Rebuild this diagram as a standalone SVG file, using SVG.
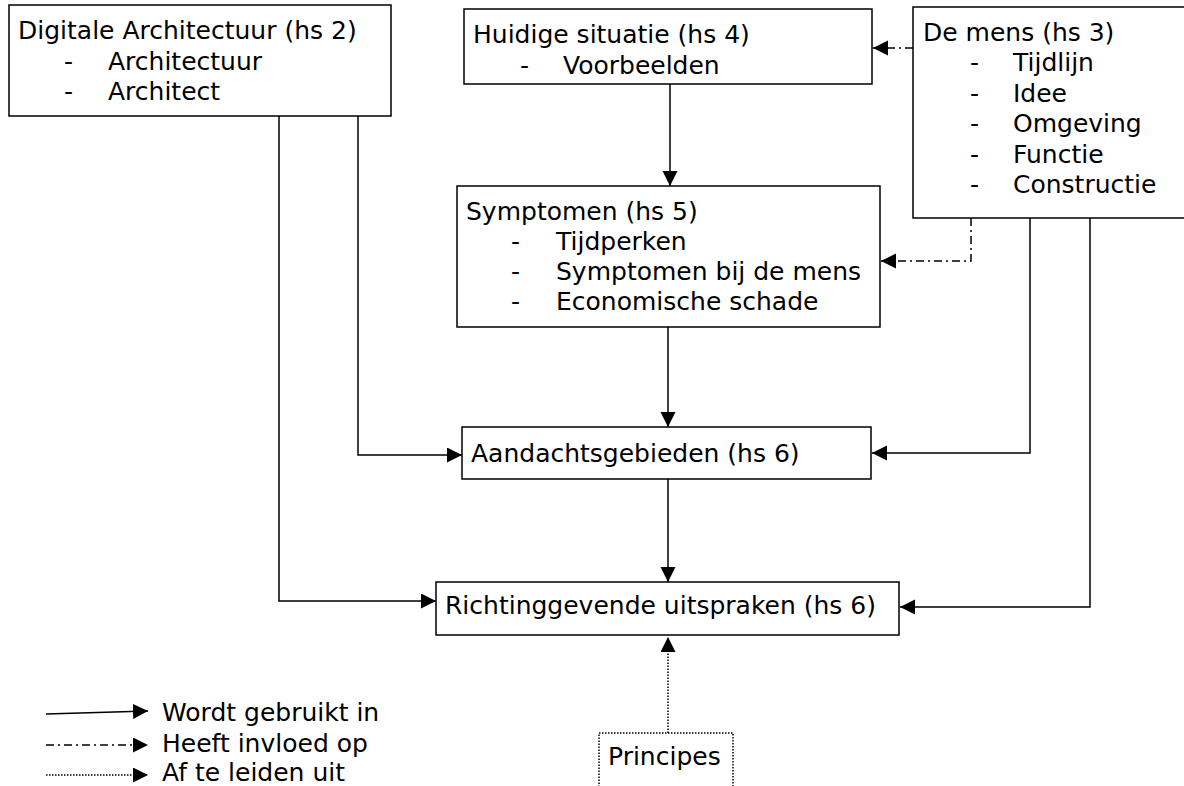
<svg xmlns="http://www.w3.org/2000/svg" width="1184" height="786" viewBox="0 0 1184 786">
  <style>
    text { font-family: "DejaVu Sans", Verdana, sans-serif; font-size: 25px; fill: #000; }
    .box { fill: #fff; stroke: #000; stroke-width: 1.5; }
    .dotbox { fill: #fff; stroke: #000; stroke-width: 1.5; stroke-dasharray: 1.5 1.5; }
    .solid { fill: none; stroke: #000; stroke-width: 1.5; }
    .dashdot { fill: none; stroke: #000; stroke-width: 1.5; stroke-dasharray: 8 4 2 4; }
    .dotted { fill: none; stroke: #000; stroke-width: 1.5; stroke-dasharray: 1.5 1.5; }
  </style>
  <defs>
    <marker id="arrow" markerUnits="userSpaceOnUse" markerWidth="16" markerHeight="16" refX="15" refY="7.5" orient="auto">
      <path d="M0,0 L15,7.5 L0,15 Z" fill="#000"/>
    </marker>
  </defs>

  <rect width="1184" height="786" fill="#fff"/>

  <!-- connectors -->
  <g id="connectors">
    <path class="dashdot" d="M913,48 H873" marker-end="url(#arrow)"/>
    <path class="solid" d="M670,84 V186" marker-end="url(#arrow)"/>
    <path class="dashdot" d="M971,218 V261 H881" marker-end="url(#arrow)"/>
    <path class="solid" d="M668,327 V427" marker-end="url(#arrow)"/>
    <path class="solid" d="M358,116 V455 H462" marker-end="url(#arrow)"/>
    <path class="solid" d="M1030,218 V453 H872" marker-end="url(#arrow)"/>
    <path class="solid" d="M668,479 V582" marker-end="url(#arrow)"/>
    <path class="solid" d="M279,116 V601 H436" marker-end="url(#arrow)"/>
    <path class="solid" d="M1090,218 V607 H900" marker-end="url(#arrow)"/>
    <path class="dotted" d="M668,733 V637" marker-end="url(#arrow)"/>
  </g>

  <g id="digitale-architectuur">
    <rect class="box" x="9" y="5" width="382" height="111"/>
    <text x="18" y="39">Digitale Architectuur (hs 2)</text>
    <text x="64" y="70">-</text>
    <text x="108" y="70">Architectuur</text>
    <text x="64" y="100">-</text>
    <text x="108" y="100">Architect</text>
  </g>

  <g id="huidige-situatie">
    <rect class="box" x="464" y="9" width="408" height="75"/>
    <text x="473" y="43">Huidige situatie (hs 4)</text>
    <text x="520" y="74">-</text>
    <text x="563" y="74">Voorbeelden</text>
  </g>

  <g id="de-mens">
    <rect class="box" x="913" y="7" width="280" height="211"/>
    <text x="923" y="41">De mens (hs 3)</text>
    <text x="970" y="71">-</text>
    <text x="1013" y="71">Tijdlijn</text>
    <text x="970" y="102">-</text>
    <text x="1013" y="102">Idee</text>
    <text x="970" y="132">-</text>
    <text x="1013" y="132">Omgeving</text>
    <text x="970" y="163">-</text>
    <text x="1013" y="163">Functie</text>
    <text x="970" y="193">-</text>
    <text x="1013" y="193">Constructie</text>
  </g>

  <g id="symptomen">
    <rect class="box" x="457" y="186" width="423" height="141"/>
    <text x="466" y="220">Symptomen (hs 5)</text>
    <text x="511" y="250">-</text>
    <text x="556" y="250">Tijdperken</text>
    <text x="511" y="280">-</text>
    <text x="556" y="280">Symptomen bij de mens</text>
    <text x="511" y="310">-</text>
    <text x="556" y="310">Economische schade</text>
  </g>

  <g id="aandachtsgebieden">
    <rect class="box" x="462" y="427" width="409" height="52"/>
    <text x="471" y="462">Aandachtsgebieden (hs 6)</text>
  </g>

  <g id="richtinggevende-uitspraken">
    <rect class="box" x="436" y="582" width="463" height="53"/>
    <text x="445" y="614">Richtinggevende uitspraken (hs 6)</text>
  </g>

  <g id="principes">
    <rect class="dotbox" x="599" y="733" width="134" height="70"/>
    <text x="608" y="765">Principes</text>
  </g>

  <g id="legend">
    <path class="solid" d="M46,714 L148,711" marker-end="url(#arrow)"/>
    <text x="162" y="721">Wordt gebruikt in</text>
    <path class="dashdot" d="M46,745 H148" marker-end="url(#arrow)"/>
    <text x="162" y="752">Heeft invloed op</text>
    <path class="dotted" d="M46,775 H148" marker-end="url(#arrow)"/>
    <text x="162" y="781">Af te leiden uit</text>
  </g>
</svg>
